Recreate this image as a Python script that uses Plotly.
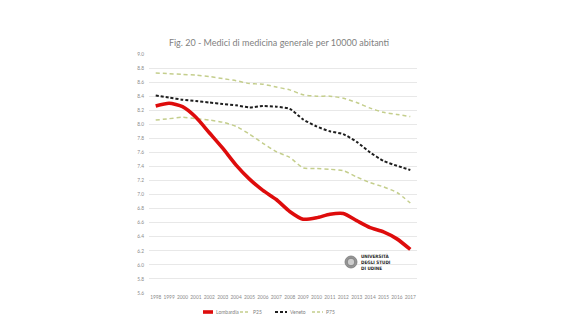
import plotly.graph_objects as go

years = [str(y) for y in range(1998, 2018)]

lombardia = [8.26, 8.30, 8.25, 8.10, 7.88, 7.66, 7.42, 7.22, 7.06, 6.93, 6.76, 6.65, 6.67, 6.72, 6.73, 6.63, 6.53, 6.47, 6.37, 6.22]
p25 = [8.06, 8.08, 8.10, 8.08, 8.06, 8.03, 7.97, 7.86, 7.73, 7.61, 7.53, 7.38, 7.37, 7.36, 7.34, 7.25, 7.17, 7.11, 7.03, 6.88]
veneto = [8.41, 8.38, 8.35, 8.33, 8.31, 8.29, 8.27, 8.24, 8.26, 8.25, 8.22, 8.07, 7.97, 7.90, 7.86, 7.75, 7.60, 7.48, 7.41, 7.35]
p75 = [8.73, 8.72, 8.71, 8.70, 8.68, 8.65, 8.62, 8.58, 8.57, 8.53, 8.49, 8.42, 8.40, 8.40, 8.37, 8.31, 8.23, 8.17, 8.14, 8.11]

y_ticks = [round(5.6 + 0.2 * i, 1) for i in range(18)]

RED = "rgb(222,12,12)"
OLIVE = "rgb(196,206,140)"
BLACK = "rgb(30,30,30)"
FONT = "Lato"

series = [
    ("Lombardia", lombardia, dict(color=RED, width=3.6)),
    ("P25", p25, dict(color=OLIVE, width=1.5, dash="4px,3px")),
    ("Veneto", veneto, dict(color=BLACK, width=2, dash="3px,2px")),
    ("P75", p75, dict(color=OLIVE, width=1.5, dash="4px,3px")),
]

fig = go.Figure()
# draw order: olive bands first, then Veneto, Lombardia on top
for name, vals, line in [series[1], series[3], series[2], series[0]]:
    fig.add_trace(go.Scatter(x=years, y=vals, name=name, mode="lines",
                             line=dict(shape="spline", smoothing=0.6, **line),
                             showlegend=False, hoverinfo="x+y+name"))

# plot area in pixels
L, R, T, B = 149, 417, 54, 293
W, H = 580, 326


def px(x):
    return (x - L) / (R - L)


def py(y):
    return (B - y) / (B - T)


shapes = []
annotations = []

# legend row drawn below the axis labels
leg_y = 312
legend_items = [
    ("Lombardia", dict(color=RED, width=3.6), 203, 213),
    ("P25", dict(color=OLIVE, width=1.5, dash="3px,2px"), 240, 250),
    ("Veneto", dict(color=BLACK, width=2, dash="3px,2px"), 275, 287),
    ("P75", dict(color=OLIVE, width=1.5, dash="3px,2px"), 312, 323),
]
for name, line, x0, x1 in legend_items:
    shapes.append(dict(type="line", xref="paper", yref="paper",
                       x0=px(x0), x1=px(x1), y0=py(leg_y), y1=py(leg_y), line=line))
    annotations.append(dict(text=name, xref="paper", yref="paper", x=px(x1 + 1), y=py(leg_y),
                            xanchor="left", yanchor="middle", showarrow=False,
                            font=dict(family=FONT, size=5, color="#7f7f7f")))

# university seal and name
cx, cy, r = 351, 262, 6
shapes.append(dict(type="circle", xref="paper", yref="paper",
                   x0=px(cx - r), x1=px(cx + r), y0=py(cy + r), y1=py(cy - r),
                   fillcolor="rgb(150,150,150)", line=dict(color="rgb(120,120,120)", width=0.8)))
shapes.append(dict(type="circle", xref="paper", yref="paper",
                   x0=px(cx - 3.8), x1=px(cx + 3.8), y0=py(cy + 3.8), y1=py(cy - 3.8),
                   fillcolor="rgb(205,205,205)", line=dict(color="rgb(110,110,110)", width=0.7)))
annotations.append(dict(text="<b>UNIVERSITÀ<br>DEGLI STUDI<br>DI UDINE</b>", xref="paper", yref="paper",
                        x=px(359), y=py(262), xanchor="left", yanchor="middle", align="left",
                        showarrow=False,
                        font=dict(family="DejaVu Sans Condensed, DejaVu Sans", size=4.6, color="rgb(40,40,40)")))

fig.update_layout(
    width=W, height=H,
    margin=dict(l=L, r=W - R, t=T, b=H - B, pad=0),
    paper_bgcolor="white", plot_bgcolor="white",
    title=dict(text="Fig. 20 - Medici di medicina generale per 10000 abitanti",
               xref="container", yref="container", x=279 / W, y=1 - 43 / H,
               xanchor="center", yanchor="middle",
               font=dict(family=FONT, size=9, color="#7f7f7f")),
    xaxis=dict(type="category", range=[-0.5, len(years) - 0.5], showgrid=False,
               showline=False, zeroline=False, ticks="",
               tickfont=dict(family=FONT, size=4.8, color="#8a8a8a")),
    yaxis=dict(range=[5.6, 9.0], tickvals=y_ticks, ticktext=[f"{v:.1f}" for v in y_ticks],
               showgrid=True, gridcolor="rgb(232,232,232)", gridwidth=0.8,
               showline=False, zeroline=False, ticks="", ticklabelstandoff=4,
               tickfont=dict(family=FONT, size=4.8, color="#8a8a8a")),
    shapes=shapes,
    annotations=annotations,
)

fig.write_html("out.html")
